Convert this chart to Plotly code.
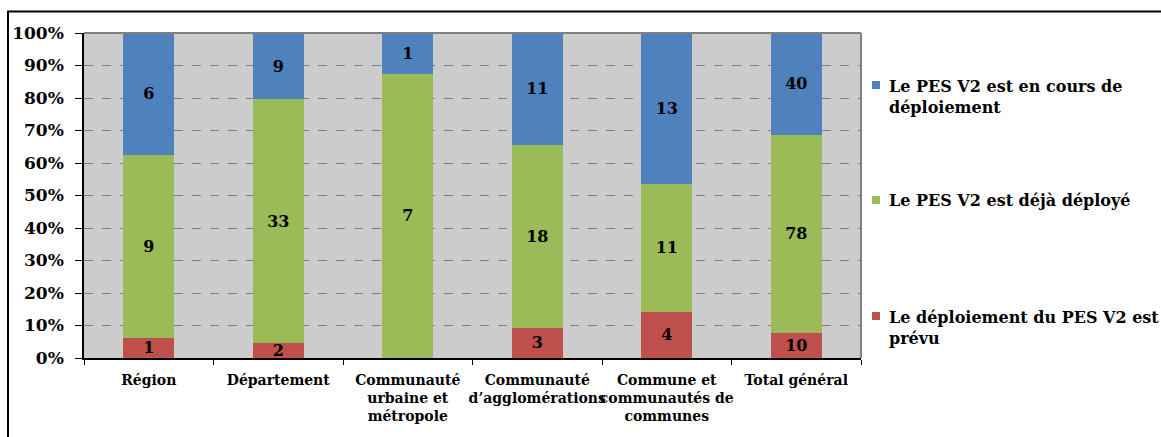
import plotly.graph_objects as go

# Categories of public bodies (x axis)
categories = [
    "Région",
    "Département",
    "Communauté<br>urbaine et<br>métropole",
    "Communauté<br>d’agglomérations",
    "Commune et<br>communautés de<br>communes",
    "Total général",
]

# Number of bodies per deployment status (stacked bottom to top)
prevu = [1, 2, 0, 3, 4, 10]
deja_deploye = [9, 33, 7, 18, 11, 78]
en_cours = [6, 9, 1, 11, 13, 40]

series_names = [
    "Le déploiement du PES V2 est<br>prévu",
    "Le PES V2 est déjà déployé",
    "Le PES V2 est en cours de<br>déploiement",
]
series_values = [prevu, deja_deploye, en_cours]
series_colors = ["#C0504D", "#9BBB59", "#4F81BD"]

y_ticks = list(range(0, 101, 10))
y_tick_labels = [f"{v}%" for v in y_ticks]

FONT = "DejaVu Serif"
W, H = 1161, 437
L, R, T, B = 84, 300, 33, 79
plot_w = W - L - R
plot_h = H - T - B


def px_x(x):
    return (x - L) / plot_w


def px_y(y):
    return (H - B - y) / plot_h


fig = go.Figure()
for name, vals, col in zip(series_names, series_values, series_colors):
    fig.add_trace(
        go.Bar(
            x=categories,
            y=vals,
            name=name,
            marker=dict(color=col, line=dict(width=0)),
            text=[str(v) if v else "" for v in vals],
            textposition="inside",
            insidetextanchor="middle",
            constraintext="none",
            textangle=0,
            textfont=dict(family=FONT, size=16, color="black", weight="bold"),
            showlegend=False,
            hoverinfo="skip",
        )
    )

shapes = [
    # outer frame around the chart
    dict(type="rect", xref="paper", yref="paper",
         x0=px_x(8), x1=px_x(1180), y0=px_y(460), y1=px_y(11.5),
         line=dict(color="black", width=2), fillcolor="rgba(0,0,0,0)", layer="below"),
    # top and right edges of the plotting area
    dict(type="line", xref="paper", yref="paper", x0=0, x1=1, y0=1, y1=1,
         line=dict(color="#808080", width=2)),
    dict(type="line", xref="paper", yref="paper", x0=1, x1=1, y0=0, y1=1,
         line=dict(color="#808080", width=2)),
]

annotations = []
legend_centers = [328, 200, 96.5]
legend_keys = [316, 200, 85]
for name, col, yc, yk in zip(series_names, series_colors, legend_centers, legend_keys):
    shapes.append(
        dict(type="rect", xref="paper", yref="paper",
             x0=px_x(872), x1=px_x(880), y0=px_y(yk + 4), y1=px_y(yk - 4),
             fillcolor=col, line=dict(width=0))
    )
    annotations.append(
        dict(xref="paper", yref="paper", x=px_x(887), y=px_y(yc),
             xanchor="left", yanchor="middle", align="left", showarrow=False,
             text=name, font=dict(family=FONT, size=16, color="black", weight="bold"))
    )

fig.update_layout(
    width=W,
    height=H,
    margin=dict(l=L, r=R, t=T, b=B, pad=0, autoexpand=False),
    paper_bgcolor="white",
    plot_bgcolor="#CCCCCC",
    barmode="stack",
    barnorm="percent",
    bargap=0.606,
    font=dict(family=FONT, color="black"),
    shapes=shapes,
    annotations=annotations,
    showlegend=False,
)

fig.update_xaxes(
    automargin=False, tickangle=0, ticklabelstandoff=8,
    showline=True, linecolor="black", linewidth=1.5,
    ticks="outside", tickson="boundaries", ticklen=5, tickcolor="black",
    tickfont=dict(family=FONT, size=14, color="black", weight="bold"),
    showgrid=False,
)
fig.update_yaxes(
    automargin=False, ticklabelstandoff=8,
    range=[0, 100],
    tickvals=y_ticks, ticktext=y_tick_labels,
    showline=True, linecolor="black", linewidth=1.5,
    ticks="outside", ticklen=7, tickcolor="black",
    tickfont=dict(family=FONT, size=17, color="black", weight="bold"),
    showgrid=True, gridcolor="#808080", gridwidth=1, griddash="dash",
    zeroline=False,
)

fig.write_html("out.html")
